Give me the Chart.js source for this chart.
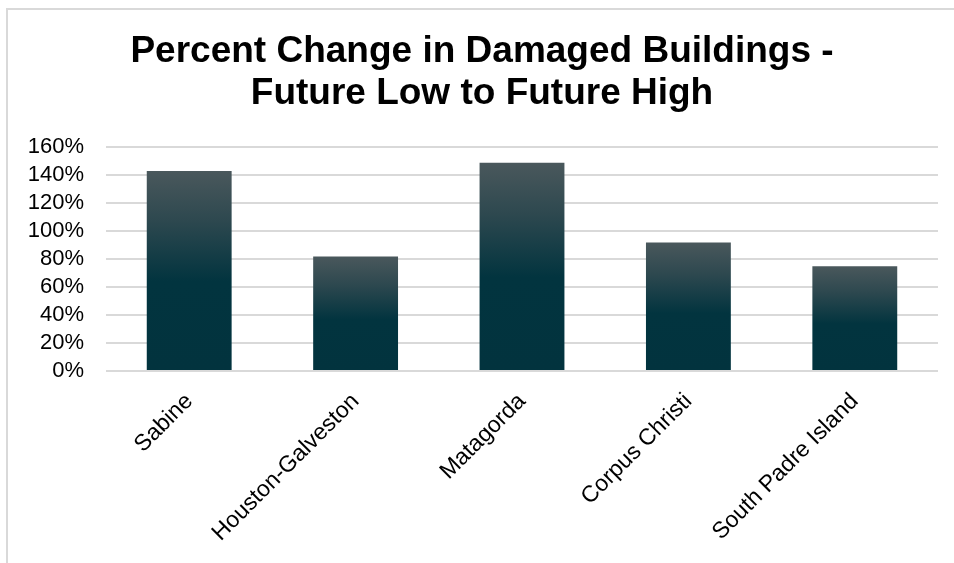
<!DOCTYPE html>
<html>
<head>
<meta charset="utf-8">
<script src="https://cdn.jsdelivr.net/npm/chart.js@4/dist/chart.umd.min.js"></script>
<style>
  html, body { margin: 0; padding: 0; background: #ffffff; }
  #wrap { position: relative; width: 954px; height: 563px; }
</style>
</head>
<body>
<div id="wrap"><canvas id="c" width="954" height="563"></canvas></div>
<script>
const titleLines = ['Percent Change in Damaged Buildings -', 'Future Low to Future High'];
const categories = ['Sabine', 'Houston-Galveston', 'Matagorda', 'Corpus Christi', 'South Padre Island'];
const percentChange = [143, 82, 149, 92, 75];
const yTickMin = 0;
const yTickMax = 160;
const yTickStep = 20;

const FONT = '"Liberation Sans", Arial, Helvetica, sans-serif';

function barGradient(ctx) {
  const chart = ctx.chart;
  const area = chart.chartArea;
  if (!area || ctx.type !== 'data') return '#02343f';
  const y = chart.scales.y;
  const top = y.getPixelForValue(ctx.raw);
  const bottom = y.getPixelForValue(0);
  if (!isFinite(top) || !isFinite(bottom) || bottom - top < 1) return '#02343f';
  const g = chart.ctx.createLinearGradient(0, top, 0, bottom);
  g.addColorStop(0, 'rgb(74,88,92)');
  g.addColorStop(0.25, 'rgb(45,72,79)');
  g.addColorStop(0.55, 'rgb(2,52,63)');
  g.addColorStop(1, 'rgb(2,51,62)');
  return g;
}

const framePlugin = {
  id: 'frame',
  afterDraw(chart) {
    const c = chart.ctx;
    c.save();
    c.strokeStyle = '#d9d9d9';
    c.lineWidth = 2;
    c.beginPath();
    c.moveTo(7, 563);
    c.lineTo(7, 9);
    c.lineTo(954, 9);
    c.stroke();
    c.restore();
  }
};

new Chart(document.getElementById('c'), {
  type: 'bar',
  data: {
    labels: categories,
    datasets: [{
      data: percentChange,
      backgroundColor: barGradient,
      borderWidth: 0,
      categoryPercentage: 1.0,
      barPercentage: 0.51
    }]
  },
  options: {
    responsive: false,
    animation: false,
    devicePixelRatio: 1,
    layout: { padding: { left: 26, right: 16, top: 0, bottom: 0 } },
    plugins: {
      legend: { display: false },
      tooltip: { enabled: false },
      title: {
        display: true,
        text: titleLines,
        color: '#000000',
        font: { family: FONT, size: 37, weight: 'bold', lineHeight: 1.14 },
        padding: { top: 31, bottom: 32 }
      }
    },
    scales: {
      x: {
        grid: { display: false, drawTicks: false },
        border: { display: false },
        ticks: {
          color: '#000000',
          font: { family: FONT, size: 23 },
          minRotation: 45,
          maxRotation: 45,
          padding: 17,
          autoSkip: false
        },
        afterFit(scale) { scale.height = 192; }
      },
      y: {
        min: yTickMin,
        max: yTickMax,
        grid: { color: '#d9d9d9', lineWidth: 2, drawTicks: false },
        border: { display: false },
        ticks: {
          stepSize: yTickStep,
          autoSkip: false,
          color: '#000000',
          font: { family: FONT, size: 22 },
          padding: 22,
          callback: v => v + '%'
        },
        afterFit(scale) { scale.width = 80; }
      }
    }
  },
  plugins: [framePlugin]
});
</script>
</body>
</html>
